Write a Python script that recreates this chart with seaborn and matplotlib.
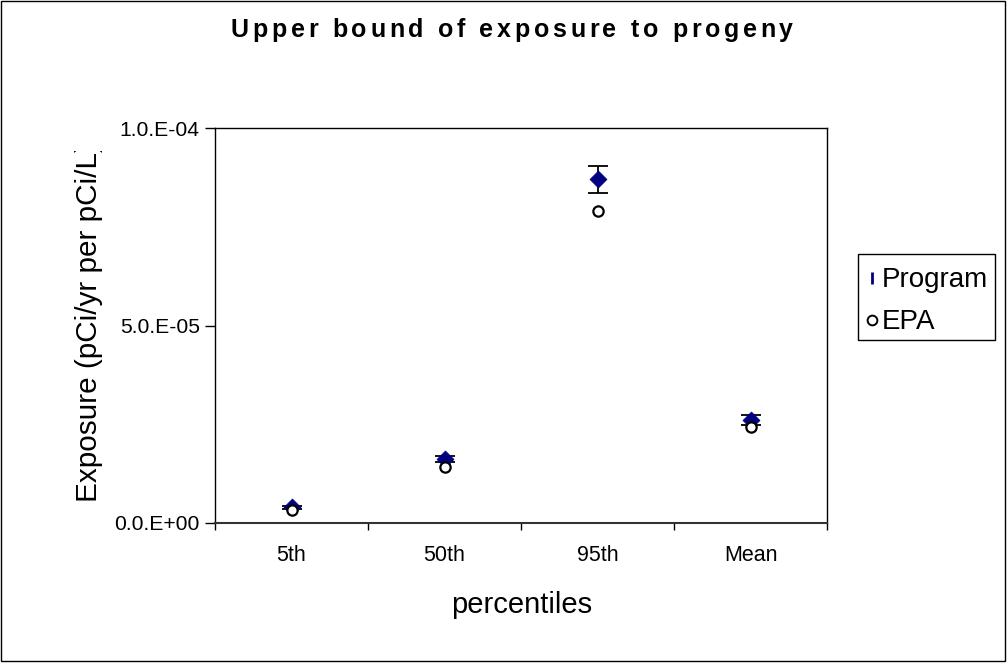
import numpy as np
import pandas as pd
import matplotlib
matplotlib.use("Agg")
import matplotlib.pyplot as plt
import matplotlib.font_manager as fm
from matplotlib import ft2font
from matplotlib.lines import Line2D
from matplotlib.patches import Rectangle
from matplotlib.transforms import Bbox, TransformedBbox
import seaborn as sns

# ---- data -------------------------------------------------------------
categories = ["5th", "50th", "95th", "Mean"]
program = [4.0e-6, 1.62e-5, 8.70e-5, 2.61e-5]
program_err = [0.4e-6, 0.7e-6, 3.4e-6, 1.3e-6]
epa = [3.3e-6, 1.43e-5, 7.90e-5, 2.44e-5]
y_ticks = [0.0, 5.0e-5, 1.0e-4]
y_tick_labels = ["0.0.E+00", "5.0.E-05", "1.0.E-04"]
title = "Upper bound of exposure to progeny"
x_title = "percentiles"
y_title = "Exposure (pCi/yr per pCi/L)"
series_names = ["Program", "EPA"]

# ---- style ------------------------------------------------------------
sns.set_theme(style="white")
plt.rcParams["font.family"] = ["Liberation Sans", "DejaVu Sans"]
plt.rcParams["text.color"] = "black"
plt.rcParams["axes.labelcolor"] = "black"
plt.rcParams["xtick.color"] = "black"
plt.rcParams["ytick.color"] = "black"

W, H, DPI = 1008, 664, 100
NAVY = "#000080"
fig = plt.figure(figsize=(W / DPI, H / DPI), dpi=DPI, facecolor="white")

def px(x, y):
    """pixel position measured from top-left -> figure fraction"""
    return x / W, 1 - y / H

# plot area
left, top = px(215, 128)
right, bottom = px(827, 523)
ax = fig.add_axes([left, bottom, right - left, top - bottom])

df = pd.DataFrame({"cat": categories, "program": program,
                   "err": program_err, "epa": epa})
pos = np.arange(len(categories))

ax.errorbar(pos, df["program"], yerr=df["err"], fmt="none",
            ecolor="black", elinewidth=1.3, capsize=7.5, capthick=1.3, zorder=2)
sns.scatterplot(data=df, x="cat", y="program", marker="D", color=NAVY,
                s=75, edgecolor=NAVY, linewidth=0.5, ax=ax, zorder=3,
                legend=False)
sns.scatterplot(data=df, x="cat", y="epa", marker="o", color="white",
                s=55, edgecolor="black", linewidth=1.6, ax=ax, zorder=4,
                legend=False)

# axes
ax.set_xlim(-0.5, len(categories) - 0.5)
ax.set_ylim(y_ticks[0], y_ticks[-1])
ax.set_xlabel("")
ax.set_ylabel("")
ax.set_xticks(pos)
ax.set_xticklabels(categories, fontsize=15.5, color="black")
ax.set_xticks(np.arange(-0.5, len(categories)), minor=True)
ax.tick_params(axis="x", which="major", length=0, pad=16)
ax.tick_params(axis="x", which="minor", length=5, width=1, color="black",
               direction="out", bottom=True)
ax.set_yticks(y_ticks)
ax.set_yticklabels(y_tick_labels, fontsize=15.2, color="black")
ax.tick_params(axis="y", length=7, width=1, color="black", direction="out",
               left=True, pad=4)
for sp in ax.spines.values():
    sp.set_color("black")
    sp.set_linewidth(1.0)
ax.spines["bottom"].set_linewidth(1.5)
ax.spines["bottom"].set_color("#333333")
ax.grid(False)

# axis titles
fx, fy = px(522, 613)
fig.text(fx, fy, x_title, fontsize=21, ha="center", va="baseline")
yx, yy = px(97, 502)
yl = fig.text(yx, yy, y_title, fontsize=21.4, rotation=90,
              rotation_mode="anchor", ha="left", va="baseline")
clip = TransformedBbox(Bbox.from_extents(0, 0, 1, 1 - 151 / H),
                       fig.transFigure)
yl.set_clip_box(clip)
yl.set_clip_on(True)

# spaced bold title
TITLE_SIZE = 18
SPACING = 3.7
tprops = fm.FontProperties(family="Liberation Sans", weight="bold",
                           size=TITLE_SIZE)
font = ft2font.FT2Font(fm.findfont(tprops))
font.set_size(TITLE_SIZE, DPI)
try:
    flags = ft2font.LoadFlags.NO_HINTING
except AttributeError:
    flags = ft2font.LOAD_NO_HINTING
adv = [font.load_char(ord(c), flags=flags).linearHoriAdvance / 65536
       for c in title]
total = sum(adv) + SPACING * (len(title) - 1)
cx = 512 - total / 2
for c, a in zip(title, adv):
    tx, ty = px(cx, 37)
    fig.text(tx, ty, c, fontproperties=tprops, ha="left", va="baseline",
             color="black")
    cx += a + SPACING

# legend (entries without frame, box drawn separately)
handles = [
    Line2D([], [], marker="|", color=NAVY, linestyle="none",
           markersize=9, markeredgewidth=2),
    Line2D([], [], marker="o", markerfacecolor="white",
           markeredgecolor="black", linestyle="none", markersize=7,
           markeredgewidth=1.4),
]
lx, ly = px(858, 259)
leg = fig.legend(handles, series_names, loc="upper left",
                 bbox_to_anchor=(lx, ly), bbox_transform=fig.transFigure,
                 borderaxespad=0, frameon=False, fontsize=20,
                 handlelength=0.4, handletextpad=0.15, borderpad=0.3,
                 labelspacing=0.58)
for t in leg.get_texts():
    t.set_color("black")
bx0, by1 = px(858, 340)
bx1, by0 = px(995, 254)
fig.patches.append(Rectangle((bx0, by1), bx1 - bx0, by0 - by1,
                             transform=fig.transFigure, fill=False,
                             edgecolor="black", linewidth=1.0))

# outer chart border
fig.patches.append(Rectangle((1 / W, 1 - 661 / H), 1004 / W, 660 / H,
                             transform=fig.transFigure, fill=False,
                             edgecolor="black", linewidth=1.0))

fig.savefig("out.png", dpi=DPI, facecolor="white")
